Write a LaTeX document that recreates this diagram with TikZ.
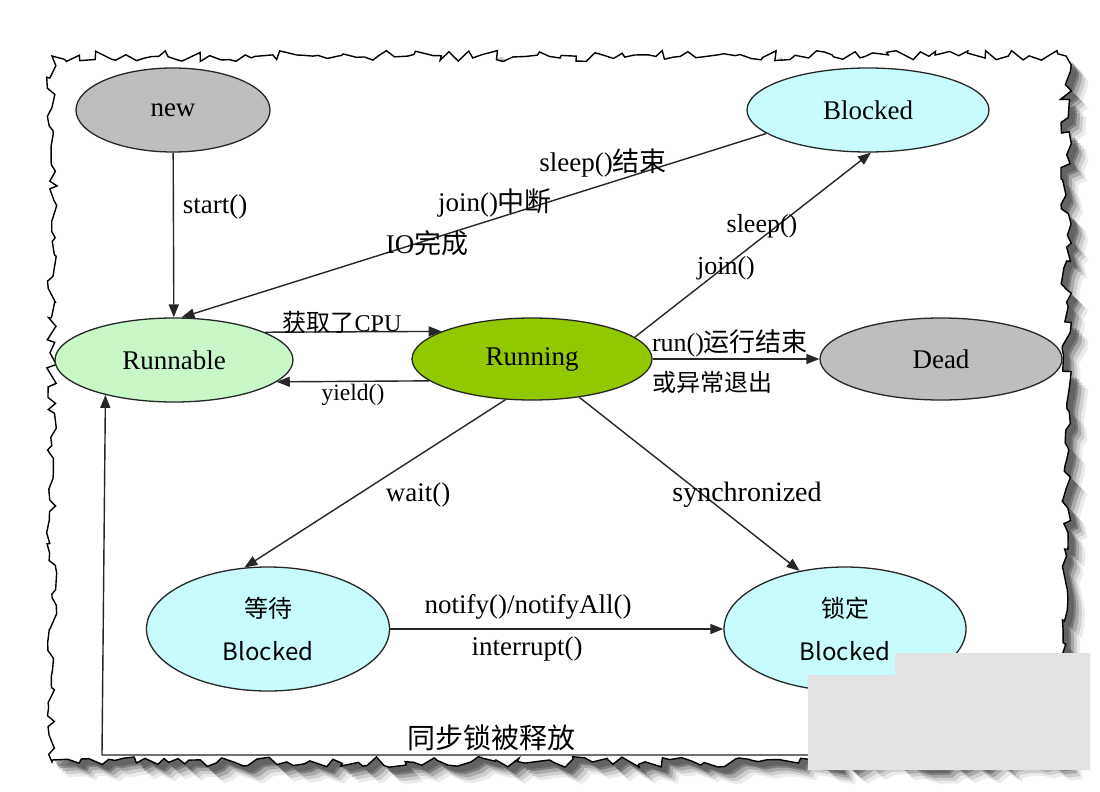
\documentclass[tikz,border=0pt]{standalone}
\usepackage{fontspec}
\setmainfont{Liberation Serif}
\newfontfamily\cjk{Noto Sans CJK SC}
\usetikzlibrary{arrows.meta,shapes.geometric,decorations.pathmorphing}
\newcommand\zhs[1]{{\cjk #1}}
\definecolor{grayfill}{HTML}{BEBEBE}
\definecolor{cyanfill}{HTML}{C8FCFC}
\definecolor{lgreen}{HTML}{C8F8C8}
\definecolor{olivefill}{HTML}{92C800}
\begin{document}
\begin{tikzpicture}[x=1pt,y=-1pt,
  state/.style={ellipse, draw=black!85, line width=1.3pt, inner sep=0pt, align=center,
    font=\fontsize{27}{30}\selectfont},
  lbl/.style={font=\fontsize{27}{30}\selectfont, inner sep=0pt},
  arr/.style={-{Triangle[length=13pt,width=10pt]}, line width=1.4pt, draw=black!85},
  paper/.style={decorate, decoration={random steps, segment length=8pt, amplitude=5.5pt}}
]
\useasboundingbox (0,0) rectangle (1100,792);
\fill[white] (0,0) rectangle (1100,792);
% shadow
\foreach \d/\op in {17/0.08,14/0.12,11/0.18,8/0.26,6/0.2} {
  \pgfmathsetseed{17}
  \fill[black,opacity=\op,paper] (52+\d,56+\d) -- (1066+\d,56+\d) -- (1066+\d,762+\d) -- (52+\d,762+\d) -- cycle;
}
% paper
\pgfmathsetseed{17}
\filldraw[fill=white, draw=black, line width=1.4pt, paper] (52,56) -- (1066,56) -- (1066,762) -- (52,762) -- cycle;

% states
\node[state, fill=grayfill, minimum width=194pt, minimum height=84pt] (new) at (173,110) {new};
\node[state, fill=cyanfill, minimum width=242pt, minimum height=84pt] (blk) at (868,110) {Blocked};
\node[state, fill=lgreen, minimum width=238pt, minimum height=84pt] (rnb) at (174,360) {Runnable};
\node[state, fill=olivefill, minimum width=240pt, minimum height=82pt] (run) at (532,359) {Running};
\node[state, fill=grayfill, minimum width=242pt, minimum height=82pt] (dead) at (941,359) {Dead};
\node[state, fill=cyanfill, minimum width=243pt, minimum height=124pt,
  font=\fontsize{24}{43}\selectfont\cjk] (wait) at (268,629) {等待\\Blocked};
\node[state, fill=cyanfill, minimum width=242pt, minimum height=124pt,
  font=\fontsize{24}{43}\selectfont\cjk] (lock) at (845,629) {锁定\\Blocked};

% connectors
\draw[arr] (new) -- (rnb);
\draw[arr] (blk.-167) -- (rnb.80);
\draw[arr] (rnb.17) -- (run.163);
\draw[arr] (run.-168) -- (rnb.-12);
\draw[arr] (run.12) -- (blk.-86);
\draw[arr] (run) -- (dead);
\draw[arr] (run.-123) -- (wait.111);
\draw[arr] (run.-39) -- (lock.128);
\draw[arr] (wait) -- (lock);
\coordinate (c2) at (102,755);
\draw[arr] (lock.south) |- (c2) -- (rnb.207);

% labels
\node[lbl] (l1) at (215,207) {start()};
\node[lbl] (l2) at (603,163) {sleep()\zhs{结束}};
\node[lbl] (l3) at (495,203) {join()\zhs{中断}};
\node[lbl] (l4) at (427,243) {IO\zhs{完成}};
\node[lbl, font=\fontsize{24}{26}\selectfont] (l5) at (342,322) {\zhs{获取了}CPU};
\node[lbl, font=\fontsize{23.5}{26}\selectfont] (l6) at (353,395) {yield()};
\node[lbl, font=\fontsize{26}{28}\selectfont] (l7) at (762,226) {sleep()};
\node[lbl, font=\fontsize{26}{28}\selectfont] (l8) at (726,268) {join()};
\node[lbl, font=\fontsize{26}{28}\selectfont] (l9) at (730,343) {run()\zhs{运行结束}};
\node[lbl, font=\fontsize{24}{26}\selectfont] (l10) at (712,382) {\zhs{或异常退出}};
\node[lbl] (l11) at (418,495) {wait()};
\node[lbl, font=\fontsize{28}{30}\selectfont] (l12) at (747,495) {synchronized};
\node[lbl] (l13) at (528,607) {notify()/notifyAll()};
\node[lbl] (l14) at (527,649) {interrupt()};
\node[lbl, font=\fontsize{28}{30}\selectfont] (l15) at (491,738) {\zhs{同步锁被释放}};

% watermark patch
\fill[black!11] (808,675) -- (895,675) -- (895,653) -- (1090,653) -- (1090,770) -- (808,770) -- cycle;
\end{tikzpicture}
\end{document}
